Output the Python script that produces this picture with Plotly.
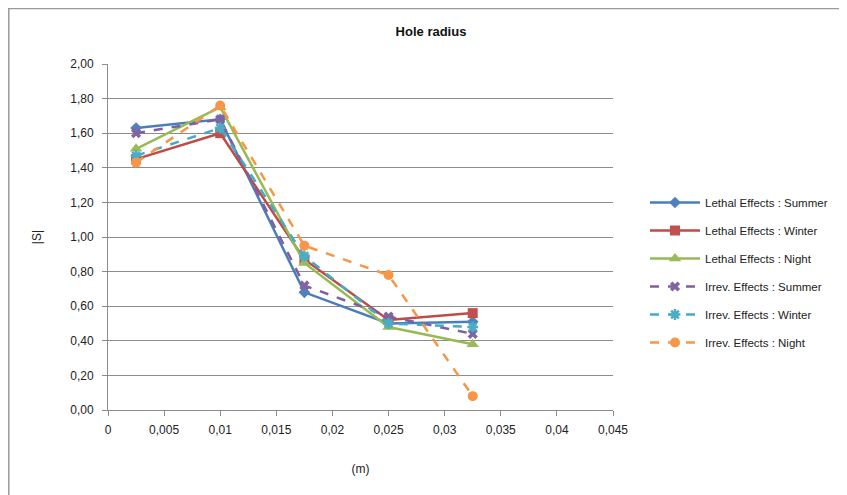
import plotly.graph_objects as go

radius = [0.0025, 0.01, 0.0175, 0.025, 0.0325]

lethal_summer = [1.63, 1.68, 0.68, 0.50, 0.51]
lethal_winter = [1.45, 1.60, 0.87, 0.52, 0.56]
lethal_night = [1.51, 1.75, 0.85, 0.48, 0.38]
irrev_summer = [1.60, 1.68, 0.72, 0.54, 0.44]
irrev_winter = [1.47, 1.63, 0.89, 0.50, 0.48]
irrev_night = [1.43, 1.76, 0.95, 0.78, 0.08]

x_tickvals = [0, 0.005, 0.01, 0.015, 0.02, 0.025, 0.03, 0.035, 0.04, 0.045]
x_ticktext = ["0", "0,005", "0,01", "0,015", "0,02", "0,025", "0,03", "0,035", "0,04", "0,045"]
y_tickvals = [0, 0.2, 0.4, 0.6, 0.8, 1.0, 1.2, 1.4, 1.6, 1.8, 2.0]
y_ticktext = ["0,00", "0,20", "0,40", "0,60", "0,80", "1,00", "1,20", "1,40", "1,60", "1,80", "2,00"]

series = [
    ("Lethal Effects : Summer", lethal_summer, "#4A7EBB", "#4F81BD", "solid", "diamond", 9),
    ("Lethal Effects : Winter", lethal_winter, "#BE4B48", "#C0504D", "solid", "square", 10),
    ("Lethal Effects : Night", lethal_night, "#98B954", "#9BBB59", "solid", "triangle-up", 11),
    ("Irrev. Effects : Summer", irrev_summer, "#7D60A0", "#8064A2", "dash", "x", 9),
    ("Irrev. Effects : Winter", irrev_winter, "#46AAC5", "#4BACC6", "dash", "asterisk-open", 9),
    ("Irrev. Effects : Night", irrev_night, "#F79646", "#F79646", "dash", "circle", 10),
]

fig = go.Figure()
for i, (name, ys, lc, mc, dash, sym, sz) in enumerate(series):
    marker = dict(symbol=sym, size=sz, color=mc)
    if sym == "asterisk-open":
        marker["line"] = dict(color=mc, width=2.5)
    fig.add_trace(go.Scatter(
        x=radius, y=ys, name=name, mode="lines+markers",
        line=dict(color=lc, width=2.5, dash=dash),
        marker=marker, legendgroup=f"g{i}",
    ))

# page is offset by 8px (body margin); work in page coordinates
OFF = 8
W, H = 847 - OFF, 495 - OFF
L, T = 108 - OFF, 64 - OFF
PR, PB = 613 - OFF, 410 - OFF
R, B = W - PR, H - PB
pw, ph = PR - L, PB - T

def px2x(p):
    return (p - OFF - L) / pw

def py2y(p):
    return (PB - (p - OFF)) / ph

fig.add_shape(type="line", xref="paper", yref="paper",
              x0=px2x(8), x1=px2x(860), y0=py2y(8.5), y1=py2y(8.5),
              line=dict(color="#9a9a9a", width=1.5))
fig.add_shape(type="line", xref="paper", yref="paper",
              x0=px2x(8.8), x1=px2x(8.8), y0=py2y(8.5), y1=py2y(510),
              line=dict(color="#9a9a9a", width=1.5))

font_family = "Liberation Sans, Arial, sans-serif"

fig.update_layout(
    width=W, height=H,
    margin=dict(l=L, r=R, t=T, b=B, autoexpand=False),
    paper_bgcolor="white", plot_bgcolor="white",
    font=dict(family=font_family, size=12, color="#222"),
    title=dict(text="<b>Hole radius</b>", x=(431 - OFF) / W, xanchor="center",
               y=1 - (31 - OFF) / H, yanchor="middle",
               font=dict(size=13, color="#111")),
    xaxis=dict(range=[0, 0.045], tickvals=x_tickvals, ticktext=x_ticktext,
               showgrid=False, zeroline=False, showline=True, linecolor="#8c8c8c", linewidth=1,
               ticks="outside", ticklen=5, tickcolor="#8c8c8c", ticklabelstandoff=4,
               title=dict(text="(m)", standoff=28, font=dict(size=12))),
    yaxis=dict(range=[0, 2.0], tickvals=y_tickvals, ticktext=y_ticktext,
               showgrid=True, gridcolor="#8c8c8c", gridwidth=1, zeroline=False,
               showline=True, linecolor="#8c8c8c", linewidth=1,
               ticks="outside", ticklen=5, tickcolor="#8c8c8c", ticklabelstandoff=6,
               title=dict(text="|S|", standoff=26, font=dict(size=12))),
    legend=dict(x=px2x(645), xanchor="left", y=py2y(188), yanchor="top",
                font=dict(size=11.5, color="#222"), tracegroupgap=9,
                itemwidth=50, bgcolor="rgba(0,0,0,0)"),
)

fig.write_html("out.html")
